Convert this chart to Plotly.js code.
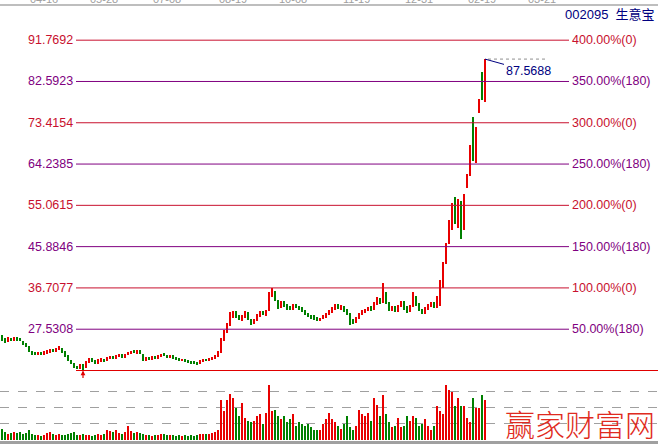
<!DOCTYPE html>
<html><head><meta charset="utf-8">
<script src="https://cdn.plot.ly/plotly-3.0.1.min.js"></script>
<style>html,body{margin:0;padding:0;background:#fff;}#c{width:658px;height:444px;}</style>
</head><body><div id="c"></div>
<script>
const openP=[25.5,25.2,24.9,25.3,25.1,25.6,25.3,24.9,24.3,23.6,22.5,22.2,21.9,22.3,22.0,22.3,22.5,22.9,22.6,22.9,23.2,22.4,21.5,20.5,19.8,19.2,18.9,19.5,19.0,20.2,20.9,20.5,20.0,20.5,20.9,20.6,21.1,21.4,21.0,21.5,21.8,21.4,21.8,22.2,22.6,22.3,22.6,22.0,20.7,21.1,20.9,21.4,21.1,21.5,22.0,21.7,21.3,21.6,21.3,21.0,20.6,20.8,20.6,20.4,20.2,20.1,19.9,20.4,20.9,20.6,20.9,21.1,21.5,22.5,25.4,27.2,28.6,30.4,31.2,30.4,29.7,30.4,31.0,29.6,28.9,29.7,30.5,31.4,30.8,31.8,35.2,35.8,33.8,32.6,33.5,32.9,32.4,32.1,32.9,32.6,32.3,31.5,31.0,30.6,30.4,30.0,29.5,29.9,30.3,31.0,31.5,32.0,32.9,32.2,32.5,31.8,30.9,29.5,29.2,30.0,30.9,31.4,31.7,32.4,32.0,33.2,34.2,33.6,35.5,33.2,31.8,32.5,31.7,32.7,33.5,32.4,31.6,32.7,34.6,33.1,31.9,31.3,32.1,32.7,33.3,32.5,33.0,37.0,42.5,46.8,51.0,54.0,52.0,55.5,50.0,59.5,62.0,67.0,66.0,76.0,84.5,79.2];
const highP=[26.2,25.5,25.7,25.5,25.9,25.8,25.5,25.0,24.5,23.8,22.7,22.4,22.4,22.5,22.6,22.8,23.1,23.1,23.3,23.7,23.4,22.6,21.7,20.7,20.0,19.4,19.9,19.8,20.5,21.1,21.1,20.7,20.8,21.1,21.0,21.4,21.6,21.6,21.8,22.0,22.0,22.1,22.5,22.7,22.8,22.8,22.8,22.1,21.3,21.3,21.5,21.6,21.8,22.1,22.2,21.8,21.8,21.8,21.4,21.2,21.0,20.9,20.7,20.5,20.4,20.2,20.6,21.0,21.0,21.2,21.3,21.7,22.7,25.6,27.4,28.9,31.4,31.6,31.5,30.6,30.8,31.6,31.3,29.9,29.9,30.9,31.5,31.6,31.9,35.9,36.8,36.0,34.0,33.9,33.8,33.1,32.6,33.1,33.1,32.8,32.5,31.7,31.2,30.8,30.6,30.2,30.1,30.6,31.2,31.9,32.5,33.2,33.2,32.9,32.7,32.0,31.1,29.8,30.2,31.2,31.7,32.1,32.5,32.6,33.6,34.6,34.5,37.8,35.9,33.5,32.7,32.7,33.0,33.7,33.7,32.6,33.0,35.8,34.9,33.3,32.1,32.5,33.2,33.5,33.5,35.0,38.5,42.5,46.8,51.8,55.5,57.0,56.5,56.0,57.5,62.0,68.5,74.7,72.5,78.6,84.8,87.5688];
const lowP=[24.9,24.5,24.7,24.8,24.9,25.0,24.8,24.0,23.6,22.4,21.9,21.8,21.8,21.9,21.9,22.1,22.3,22.5,22.5,22.8,22.3,21.4,20.4,19.7,18.9,18.6,18.7,18.354,18.9,20.0,20.3,19.9,19.9,20.3,20.3,20.5,20.9,20.8,20.9,21.3,21.1,21.2,21.7,22.0,22.2,22.1,22.0,20.4,20.5,20.7,20.7,20.9,21.0,21.3,21.5,21.2,21.1,21.0,20.7,20.5,20.4,20.3,20.1,19.9,19.8,19.6,19.7,20.2,20.5,20.4,20.7,20.9,21.3,22.3,25.0,26.8,28.3,30.0,30.0,29.6,29.4,30.1,29.6,28.5,28.6,29.4,30.3,30.6,30.5,31.5,34.8,33.7,32.1,32.3,32.5,31.9,31.7,31.8,32.2,31.9,31.3,30.6,30.2,29.9,29.6,29.3,29.3,29.7,30.0,30.7,31.2,31.7,32.0,31.9,31.3,30.7,28.4,28.6,29.0,29.8,30.6,31.2,31.5,31.6,31.7,33.0,33.2,33.3,33.1,31.6,31.5,31.3,31.4,32.4,31.9,31.2,31.3,32.4,32.7,31.5,30.9,31.0,31.9,32.4,32.3,32.2,32.8,36.8,42.0,46.5,49.5,51.0,50.0,47.5,49.5,59.0,61.5,65.0,64.5,75.5,78.5,78.0];
const closeP=[25.1,24.8,25.4,25.0,25.6,25.3,25.0,24.2,23.8,22.6,22.1,22.0,22.2,22.1,22.4,22.6,22.9,22.7,23.1,23.3,22.5,21.6,20.6,19.9,19.1,18.8,19.6,18.9,20.3,20.8,20.5,20.1,20.6,20.9,20.5,21.2,21.4,21.0,21.6,21.8,21.3,21.9,22.3,22.5,22.4,22.6,22.2,20.6,21.0,20.9,21.3,21.1,21.6,21.9,21.7,21.4,21.6,21.2,20.9,20.7,20.8,20.5,20.3,20.1,20.0,19.8,20.4,20.8,20.7,21.0,21.1,21.5,22.3,25.2,27.0,28.5,30.8,31.0,30.2,29.9,30.5,31.3,29.8,28.8,29.6,30.6,31.2,30.9,31.6,35.6,36.2,34.0,32.4,33.6,32.8,32.2,32.0,32.8,32.5,32.2,31.6,30.9,30.5,30.2,29.9,29.6,29.8,30.4,31.0,31.6,32.2,32.8,32.3,32.6,31.6,31.0,29.3,29.1,30.0,31.0,31.5,31.8,32.2,31.9,33.3,34.3,33.5,36.0,33.4,31.9,32.4,31.6,32.8,33.4,32.2,31.5,32.8,35.0,33.0,31.8,31.2,32.2,32.9,33.2,32.6,34.6,36.6,42.0,46.2,51.2,54.5,52.0,55.5,49.5,56.8,61.5,67.5,66.0,72.0,78.2,79.0,86.5];
const volume=[0.7,0.5,0.4,0.45,0.5,0.45,0.5,0.4,0.45,0.6,0.4,0.3,0.3,0.25,0.3,0.45,0.5,0.35,0.3,0.35,0.3,0.3,0.35,0.45,0.5,0.3,0.3,0.35,0.3,0.3,0.25,0.3,0.35,0.3,0.4,0.6,0.55,0.5,0.6,0.45,0.4,0.5,0.85,0.55,0.45,0.5,0.45,0.4,0.3,0.3,0.25,0.3,0.3,0.35,0.35,0.3,0.3,0.3,0.25,0.3,0.25,0.3,0.25,0.3,0.25,0.3,0.4,0.35,0.4,0.35,0.45,0.5,0.6,2.5,1.8,2.5,2.9,2.6,2.0,1.5,2.3,1.4,1.2,1.1,1.2,1.5,1.6,1.0,1.7,3.45,1.8,1.9,1.5,1.3,1.5,1.1,1.3,1.6,0.9,1.1,1.0,0.9,1.0,0.8,0.6,0.6,0.6,1.0,1.3,1.7,1.3,1.1,0.9,0.7,1.0,1.5,0.8,0.6,0.9,1.9,1.6,1.5,1.7,1.2,2.6,2.2,1.5,2.8,1.6,1.1,0.8,0.9,1.4,0.8,0.9,1.5,1.2,1.5,1.4,0.9,1.0,1.3,0.9,0.6,0.9,2.1,1.8,1.6,3.45,3.1,3.0,2.1,2.6,2.1,2.1,1.4,1.1,2.6,2.0,2.0,2.8,2.5];
const levelValues=[91.7692,82.5923,73.4154,64.2385,55.0615,45.8846,36.7077,27.5308];
const levelLeftLabels=["91.7692","82.5923","73.4154","64.2385","55.0615","45.8846","36.7077","27.5308"];
const levelRightLabels=["400.00%(0)","350.00%(180)","300.00%(0)","250.00%(180)","200.00%(0)","150.00%(180)","100.00%(0)","50.00%(180)"];
const baseLow=18.354;
const peakHigh=87.5688;
const dateLabels=["04-16","05-28","07-08","08-19","10-08","11-19","12-31","02-19","03-21"];
const dateIdx=[14,34,55,77,97,118,139,160,180];
const stockTitle="002095  生意宝";
const watermark="赢家财富网";

const W=658,H=444;
const idx=closeP.map((_,i)=>i);
const RED='#e80000',GREEN='#008000',LRED='#c8102e',LPUR='#800080',NAVY='#000080';
const up=closeP.map((c,i)=>c>=openP[i]);
const colors=up.map(u=>u?RED:GREEN);
const px=v=>v/W, py=v=>1-v/H;

const shapes=[], ann=[];
levelValues.forEach((v,k)=>{
  const col=k%2===0?LRED:LPUR;
  shapes.push({type:'line',xref:'paper',yref:'y',x0:px(76),x1:px(569),y0:v,y1:v,line:{color:col,width:1}});
  ann.push({xref:'paper',yref:'y',x:px(75),y:v,text:levelLeftLabels[k],showarrow:false,xanchor:'right',yanchor:'middle',font:{family:'Liberation Sans, Arial',size:12.5,color:col}});
  ann.push({xref:'paper',yref:'y',x:px(570),y:v,text:levelRightLabels[k],showarrow:false,xanchor:'left',yanchor:'middle',font:{family:'Liberation Sans, Arial',size:12.5,color:col}});
});
shapes.push({type:'line',xref:'paper',yref:'y',x0:px(76),x1:1,y0:baseLow,y1:baseLow,line:{color:'#e00000',width:1.2}});
shapes.push({type:'line',xref:'paper',yref:'paper',x0:0,x1:1,y0:py(5),y1:py(5),line:{color:'#a8a8a8',width:1.5}});
shapes.push({type:'rect',xref:'paper',yref:'paper',x0:0,x1:1,y0:0,y1:3/H,fillcolor:'#a0a0a0',line:{width:0}});
shapes.push({type:'line',xref:'paper',yref:'y',x0:px(488),x1:px(546),y0:peakHigh,y1:peakHigh,line:{color:'#909090',width:1,dash:'dot'}});
dateLabels.forEach((t,k)=>ann.push({xref:'x',yref:'paper',x:dateIdx[k],y:1,yshift:1,text:t,showarrow:false,yanchor:'middle',font:{family:'Liberation Sans, Arial',size:11,color:'#a0a0a0'}}));
ann.push({xref:'paper',yref:'paper',x:px(657),y:py(14),text:stockTitle,showarrow:false,xanchor:'right',yanchor:'middle',font:{family:'Liberation Sans, Noto Sans CJK SC',size:13,color:NAVY}});
ann.push({xref:'x',yref:'y',x:closeP.length-1,y:peakHigh,text:'87.5688',showarrow:true,arrowhead:0,arrowwidth:1,arrowcolor:NAVY,ax:43,ay:12,font:{family:'Liberation Sans, Arial',size:12.5,color:NAVY}});
ann.push({xref:'x',yref:'y',x:27,y:baseLow,text:'',showarrow:true,arrowhead:2,arrowsize:0.8,arrowwidth:1.2,arrowcolor:'#e00000',ax:0,ay:9});
ann.push({xref:'paper',yref:'paper',x:px(580),y:py(423),text:watermark,showarrow:false,xanchor:'center',yanchor:'middle',font:{family:'Noto Sans CJK SC',size:30,weight:300,color:'#e02a20'}});

// wicks (high-low) and bodies (open-close) drawn as floating bars on the price axis
const wickLen=highP.map((h,i)=>h-lowP[i]);
const bodyBase=openP.map((o,i)=>Math.min(o,closeP[i]));
const bodyLen=openP.map((o,i)=>Math.max(Math.abs(closeP[i]-o),0.18));
const data=[
 {type:'bar',x:idx,y:wickLen,base:lowP,xaxis:'x',yaxis:'y',marker:{color:colors,line:{width:0}},width:0.34,hoverinfo:'none'},
 {type:'bar',x:idx,y:bodyLen,base:bodyBase,xaxis:'x',yaxis:'y',marker:{color:colors,line:{width:0}},width:0.62,hoverinfo:'none'},
 {type:'bar',x:idx,y:volume,xaxis:'x',yaxis:'y2',marker:{color:colors,line:{width:0}},width:0.42,hoverinfo:'none'}
];
const layout={width:W,height:H,margin:{l:0,r:0,t:0,b:0},paper_bgcolor:'#fff',plot_bgcolor:'rgba(0,0,0,0)',showlegend:false,barmode:'overlay',
 xaxis:{range:[-2/3,-2/3+W/3],visible:false,fixedrange:true},
 yaxis:{domain:[72/H,1],range:[18.02,100.70],visible:false,fixedrange:true},
 yaxis2:{domain:[4/H,69/H],range:[0,4.06],showgrid:true,gridcolor:'#a0a0a0',griddash:'dash',gridwidth:1,tickvals:[1,2,3,4],showticklabels:false,zeroline:false,showline:false,ticks:''},
 shapes:shapes,annotations:ann,bargap:0};
Plotly.newPlot('c',data,layout,{staticPlot:true,displayModeBar:false});
</script></body></html>
